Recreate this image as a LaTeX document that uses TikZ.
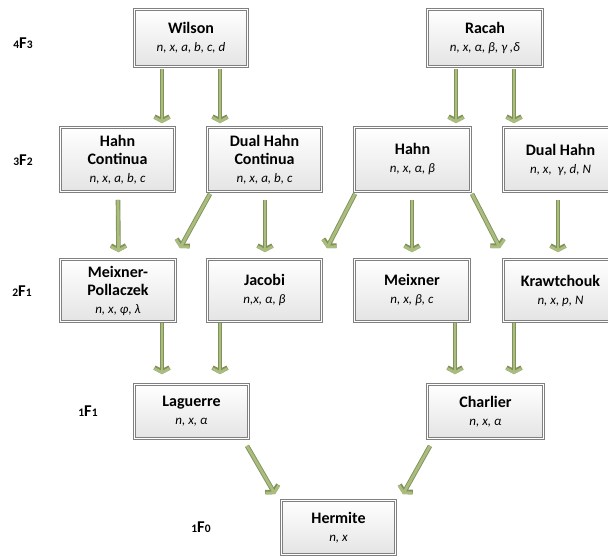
\documentclass[tikz,border=0pt]{standalone}
\usepackage{fontspec}
\setmainfont{Carlito}
\usetikzlibrary{arrows.meta,shadows}
\definecolor{arrowfill}{RGB}{170,188,126}
\definecolor{arrowline}{RGB}{128,145,90}
\definecolor{boxline}{RGB}{128,128,128}
\definecolor{boxbottom}{RGB}{228,228,228}
\newcommand\prm[1]{{\fontsize{13}{15}\selectfont\mdseries\itshape #1}}
\newcommand\lvlsmall[1]{{\fontsize{11.5}{13}\selectfont\bfseries #1}}
\newcommand\hyplevel[2]{\lvlsmall{#1}{\fontsize{16.5}{18}\selectfont\bfseries F}\lvlsmall{#2}}
\tikzset{
  box/.style={draw=boxline, line width=0.7pt, double=white, double distance=1.3pt,
    top color=white, bottom color=boxbottom, align=center, inner sep=2pt,
    minimum width=114pt, minimum height=64pt,
    font=\fontsize{16}{18}\selectfont\bfseries,
    drop shadow={shadow xshift=1.5pt, shadow yshift=-1.5pt, opacity=0.18, fill=black}},
  conn/.style={line width=2.8pt, draw=arrowfill,
    -{Straight Barb[length=4pt,width=15pt]},
    preaction={draw=arrowline, line width=4.6pt, -{Straight Barb[length=4pt,width=15pt]}}},
  lvl/.style={inner sep=0pt}
}
\begin{document}
\begin{tikzpicture}[x=1pt,y=-1pt]
\useasboundingbox (0,0) rectangle (608,556);
\clip (0,0) rectangle (608,556);
% level labels
\node[lvl] (l43) at (23,43) {\hyplevel{4}{3}};
\node[lvl] (l32) at (23,160) {\hyplevel{3}{2}};
\node[lvl] (l21) at (22,291) {\hyplevel{2}{1}};
\node[lvl] (l11) at (88,411) {\hyplevel{1}{1}};
\node[lvl] (l10) at (201,527) {\hyplevel{1}{0}};
% boxes
\node[box, minimum width=113pt, minimum height=57pt] (wilson) at (191,38) {Wilson\\\prm{n, x, a, b, c, d}};
\node[box, minimum width=115pt, minimum height=57pt] (racah) at (485,38) {Racah\\\prm{n, x, α, β, γ ,δ}};
\node[box] (hc) at (117.5,159.5) {Hahn\\Continua\\\prm{n, x, a, b, c}};
\node[box] (dhc) at (264.5,159.5) {Dual Hahn\\Continua\\\prm{n, x, a, b, c}};
\node[box, minimum width=116pt] (hahn) at (412.5,159.5) {Hahn\\\prm{n, x, α, β}};
\node[box] (dhahn) at (560.5,159.5) {Dual Hahn\\\prm{n, x,\ \ γ, d, N}};
\node[box, minimum width=115pt, minimum height=62pt] (mp) at (118,290.5) {Meixner-\\Pollaczek\\\prm{n, x, φ, λ}};
\node[box, minimum height=62pt] (jacobi) at (264.5,290.5) {Jacobi\\\prm{n,x, α, β}};
\node[box, minimum width=115pt, minimum height=62pt] (meixner) at (412,290.5) {Meixner\\\prm{n, x, β, c}};
\node[box, minimum height=62pt] (kraw) at (560.5,290.5) {Krawtchouk\\\prm{n, x, p, N}};
\node[box, minimum height=54pt] (laguerre) at (191.5,411.5) {Laguerre\\\prm{n, x, α}};
\node[box, minimum width=116pt, minimum height=54pt] (charlier) at (485.5,411.5) {Charlier\\\prm{n, x, α}};
\node[box, minimum height=54pt] (hermite) at (338.5,527.5) {Hermite\\\prm{n, x}};
% connectors
\draw[conn] ([xshift=-29pt,yshift=-2pt]wilson.south) -- ([xshift=44.5pt,yshift=4pt]hc.north);
\draw[conn] ([xshift=29pt,yshift=-2pt]wilson.south) -- ([xshift=-44.5pt,yshift=4pt]dhc.north);
\draw[conn] ([xshift=-29pt,yshift=-2pt]racah.south) -- ([xshift=43.5pt,yshift=4pt]hahn.north);
\draw[conn] ([xshift=29pt,yshift=-2pt]racah.south) -- ([xshift=-46.5pt,yshift=4pt]dhahn.north);
\draw[conn] ([xshift=0.5pt,yshift=-8pt]hc.south) -- ([xshift=0.5pt,yshift=7pt]mp.north);
\draw[conn] ([xshift=-54.5pt,yshift=-2pt]dhc.south) -- ([xshift=62pt,yshift=11pt]mp.north);
\draw[conn] ([xshift=0.5pt,yshift=-8pt]dhc.south) -- ([xshift=0.5pt,yshift=7pt]jacobi.north);
\draw[conn] ([xshift=-57.5pt,yshift=-2pt]hahn.south) -- ([xshift=62.5pt,yshift=11pt]jacobi.north);
\draw[conn] ([xshift=-0.5pt,yshift=-8pt]hahn.south) -- ([xshift=0pt,yshift=7pt]meixner.north);
\draw[conn] ([xshift=59.5pt,yshift=-2pt]hahn.south) -- ([xshift=-60.5pt,yshift=11pt]kraw.north);
\draw[conn] ([xshift=-2.5pt,yshift=-8pt]dhahn.south) -- ([xshift=-2.5pt,yshift=7pt]kraw.north);
\draw[conn] ([xshift=44pt,yshift=-1.5pt]mp.south) -- ([xshift=-29.5pt,yshift=10pt]laguerre.north);
\draw[conn] ([xshift=-44.5pt,yshift=-1.5pt]jacobi.south) -- ([xshift=28.5pt,yshift=10pt]laguerre.north);
\draw[conn] ([xshift=43pt,yshift=-1.5pt]meixner.south) -- ([xshift=-30.5pt,yshift=10pt]charlier.north);
\draw[conn] ([xshift=-46.5pt,yshift=-1.5pt]kraw.south) -- ([xshift=28.5pt,yshift=10pt]charlier.north);
\draw[conn] ([xshift=55.5pt,yshift=-7pt]laguerre.south) -- ([xshift=-63.5pt,yshift=6pt]hermite.north);
\draw[conn] ([xshift=-55.5pt,yshift=-7pt]charlier.south) -- ([xshift=64.5pt,yshift=6pt]hermite.north);
\end{tikzpicture}
\end{document}
